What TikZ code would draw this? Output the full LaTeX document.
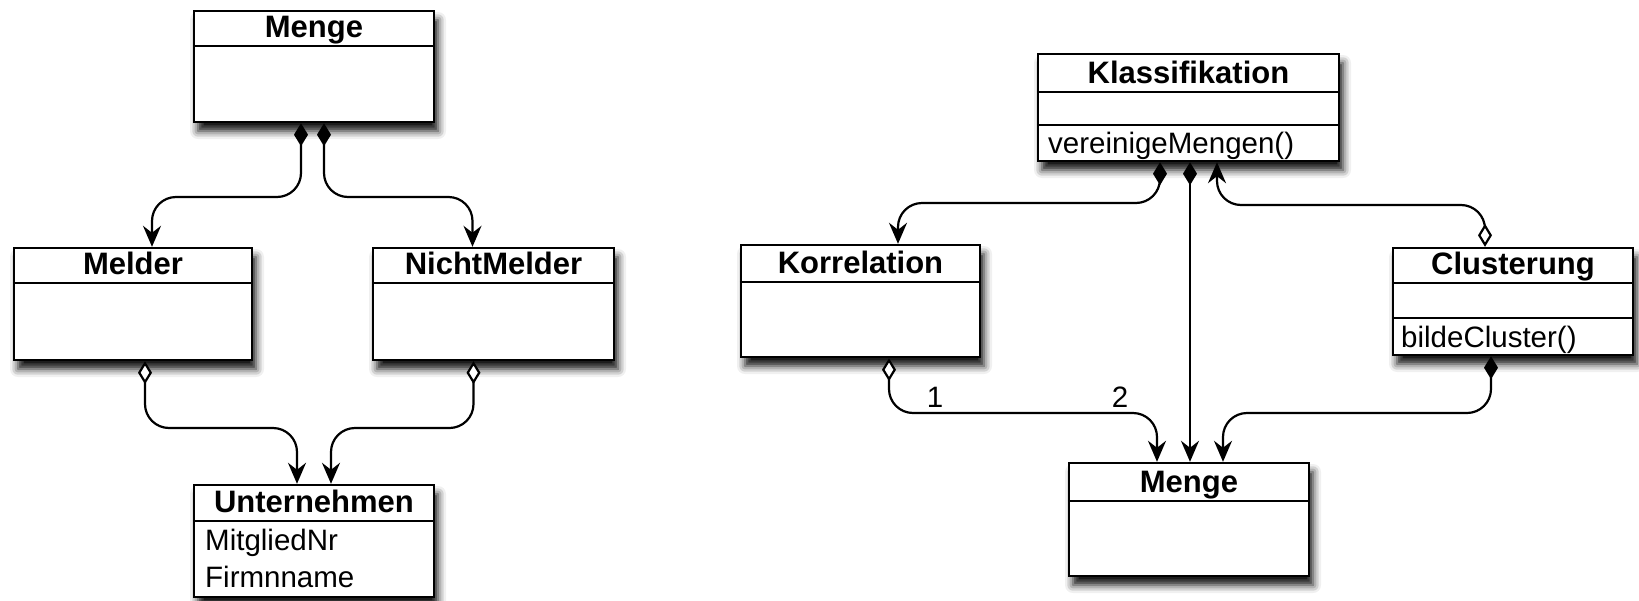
\documentclass[tikz,border=0pt]{standalone}
\usepackage{fontspec}
\setmainfont{Liberation Sans}
\usetikzlibrary{arrows.meta,shadows.blur}
\begin{document}
\begin{tikzpicture}[x=1pt,y=-1pt,
  cls/.style={draw, line width=2.4pt, fill=white, inner sep=0pt,
    blur shadow={shadow xshift=4pt, shadow yshift=-9pt, shadow blur radius=8pt, shadow opacity=95}},
  divider/.style={line width=2.4pt},
  title/.style={font=\fontsize{31}{37}\selectfont\bfseries, inner sep=0pt, anchor=base},
  attr/.style={font=\fontsize{29.5}{35}\selectfont, inner sep=0pt, anchor=base west},
  lbl/.style={font=\fontsize{29.5}{35}\selectfont, inner sep=0pt, anchor=base},
  conn/.style={line width=2.2pt, rounded corners=24pt},
  comp/.style={conn, {Diamond[length=23pt,width=14pt]}-{Stealth[length=21pt,width=18pt,inset=7pt]}},
  aggr/.style={conn, {Diamond[open,fill=white,length=23pt,width=14pt]}-{Stealth[length=21pt,width=18pt,inset=7pt]}},
]
\useasboundingbox (0,0) rectangle (1639,600);

% ---------- left diagram ----------
\node[cls, minimum width=240pt, minimum height=111pt] (mengeL) at (314,66.5) {};
\draw[divider] (mengeL.west |- 0,46) -- (mengeL.east |- 0,46);
\node[title] (mengeLt) at (314,37) {Menge};

\node[cls, minimum width=238pt, minimum height=112pt] (melder) at (133,304) {};
\draw[divider] (melder.west |- 0,283) -- (melder.east |- 0,283);
\node[title] (meldert) at (133,274) {Melder};

\node[cls, minimum width=241pt, minimum height=112pt] (nicht) at (493.5,304) {};
\draw[divider] (nicht.west |- 0,283) -- (nicht.east |- 0,283);
\node[title] (nichtt) at (493.5,274) {NichtMelder};

\node[cls, minimum width=240pt, minimum height=112pt] (unter) at (314,541) {};
\draw[divider] (unter.west |- 0,521) -- (unter.east |- 0,521);
\node[title] (untert) at (314,512) {Unternehmen};
\node[attr] (unta) at (205,550) {MitgliedNr};
\node[attr] (untb) at (205,587) {Firmnname};

\coordinate (hL1) at (0,197);
\coordinate (hL2) at (0,428);
\draw[comp] ([xshift=-13pt]mengeL.south) -- ([xshift=-13pt]mengeL.south |- hL1)
  -- ([xshift=19pt]melder.north |- hL1) -- ([xshift=19pt]melder.north);
\draw[comp] ([xshift=10pt]mengeL.south) -- ([xshift=10pt]mengeL.south |- hL1)
  -- ([xshift=-21pt]nicht.north |- hL1) -- ([xshift=-21pt]nicht.north);
\draw[aggr] ([xshift=12pt]melder.south) -- ([xshift=12pt]melder.south |- hL2)
  -- ([xshift=-17pt]unter.north |- hL2) -- ([xshift=-17pt]unter.north);
\draw[aggr] ([xshift=-20pt]nicht.south) -- ([xshift=-20pt]nicht.south |- hL2)
  -- ([xshift=17pt]unter.north |- hL2) -- ([xshift=17pt]unter.north);

% ---------- right diagram ----------
\node[cls, minimum width=301pt, minimum height=107pt] (klass) at (1188.5,107.5) {};
\draw[divider] (klass.west |- 0,92) -- (klass.east |- 0,92);
\draw[divider] (klass.west |- 0,125) -- (klass.east |- 0,125);
\node[title] (klasst) at (1188.5,83) {Klassifikation};
\node[attr] (klassm) at (1048,153) {vereinigeMengen()};

\node[cls, minimum width=239pt, minimum height=112pt] (korr) at (860.5,301) {};
\draw[divider] (korr.west |- 0,282) -- (korr.east |- 0,282);
\node[title] (korrt) at (860.5,273) {Korrelation};

\node[cls, minimum width=240pt, minimum height=107pt] (clus) at (1513,301.5) {};
\draw[divider] (clus.west |- 0,283) -- (clus.east |- 0,283);
\draw[divider] (clus.west |- 0,318) -- (clus.east |- 0,318);
\node[title] (clust) at (1513,274) {Clusterung};
\node[attr] (clusm) at (1401,347) {bildeCluster()};

\node[cls, minimum width=240pt, minimum height=113pt] (mengeR) at (1189,519.5) {};
\draw[divider] (mengeR.west |- 0,501) -- (mengeR.east |- 0,501);
\node[title] (mengeRt) at (1189,492) {Menge};

\coordinate (hR1) at (0,203);
\coordinate (hR2) at (0,205);
\coordinate (hR3) at (0,413);
\draw[comp] ([xshift=-28.5pt]klass.south) -- ([xshift=-28.5pt]klass.south |- hR1)
  -- ([xshift=37.5pt]korr.north |- hR1) -- ([xshift=37.5pt]korr.north);
\draw[comp, rounded corners=0pt] ([xshift=1.5pt]klass.south) -- ([xshift=1.5pt]klass.south |- mengeR.north);
\draw[aggr] ([xshift=-28pt]clus.north) -- ([xshift=-28pt]clus.north |- hR2)
  -- ([xshift=28.5pt]klass.south |- hR2) -- ([xshift=28.5pt]klass.south);
\draw[aggr] ([xshift=28.5pt]korr.south) -- ([xshift=28.5pt]korr.south |- hR3)
  -- ([xshift=-32pt]mengeR.north |- hR3) -- ([xshift=-32pt]mengeR.north);
\draw[comp] ([xshift=-22pt]clus.south) -- ([xshift=-22pt]clus.south |- hR3)
  -- ([xshift=34pt]mengeR.north |- hR3) -- ([xshift=34pt]mengeR.north);
\node[lbl] (m1) at (935,407) {1};
\node[lbl] (m2) at (1120,407) {2};
\end{tikzpicture}
\end{document}
